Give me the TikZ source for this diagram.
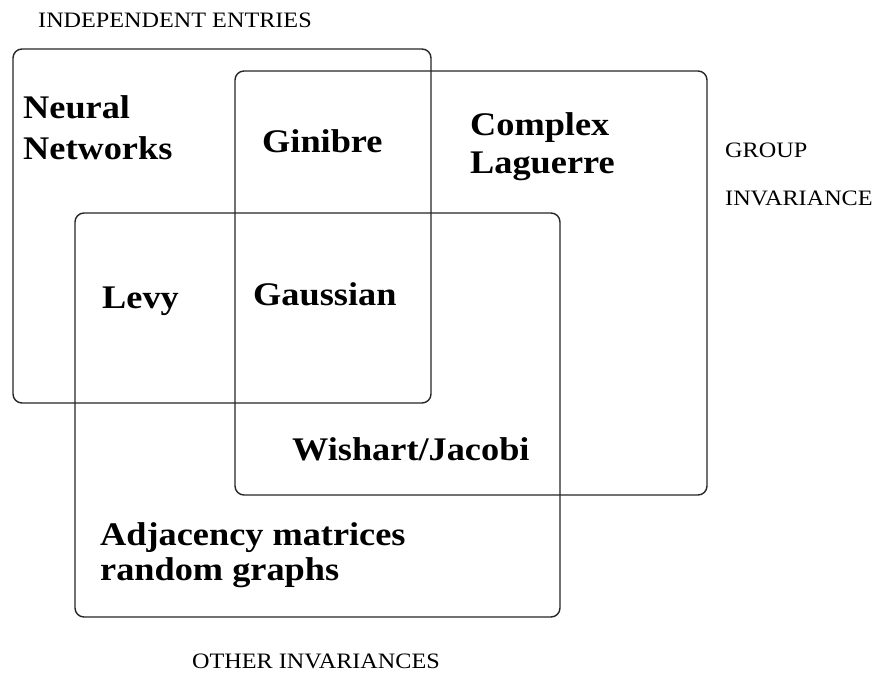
\documentclass[tikz,border=0pt]{standalone}
\usepackage{fontspec}
\setmainfont{Liberation Serif}[FakeStretch=1.1]
\tikzset{
  setbox/.style={draw=black!85, line width=1.4pt, rounded corners=9pt},
  biglabel/.style={anchor=base west, inner sep=0pt, font=\fontsize{33}{40}\selectfont\bfseries},
  smalllabel/.style={anchor=base west, inner sep=0pt, font=\fontsize{22}{26}\selectfont},
}
\begin{document}
\begin{tikzpicture}[x=1pt,y=-1pt]
\useasboundingbox[fill=white] (0,0) rectangle (874,674);
% sets
\draw[setbox] (13,49) rectangle (431,403);
\draw[setbox] (235,71) rectangle (707,495);
\draw[setbox] (75,213) rectangle (560,617);
% set labels
\node[smalllabel] (indep) at (38,28) {INDEPENDENT ENTRIES};
\node[smalllabel] (group) at (725,157) {GROUP};
\node[smalllabel] (inv) at (725,205) {INVARIANCE};
\node[smalllabel] (other) at (192,668) {OTHER INVARIANCES};
% members
\node[biglabel] (neural1) at (23,118) {Neural};
\node[biglabel] (neural2) at (23,159) {Networks};
\node[biglabel] (ginibre) at (262,152) {Ginibre};
\node[biglabel] (complex1) at (470,135) {Complex};
\node[biglabel] (complex2) at (470,173) {Laguerre};
\node[biglabel] (levy) at (102,308) {Levy};
\node[biglabel] (gauss) at (253,305) {Gaussian};
\node[biglabel] (wishart) at (292,460) {Wishart/Jacobi};
\node[biglabel] (adj1) at (100,545) {Adjacency matrices};
\node[biglabel] (adj2) at (100,580) {random graphs};
\end{tikzpicture}
\end{document}
